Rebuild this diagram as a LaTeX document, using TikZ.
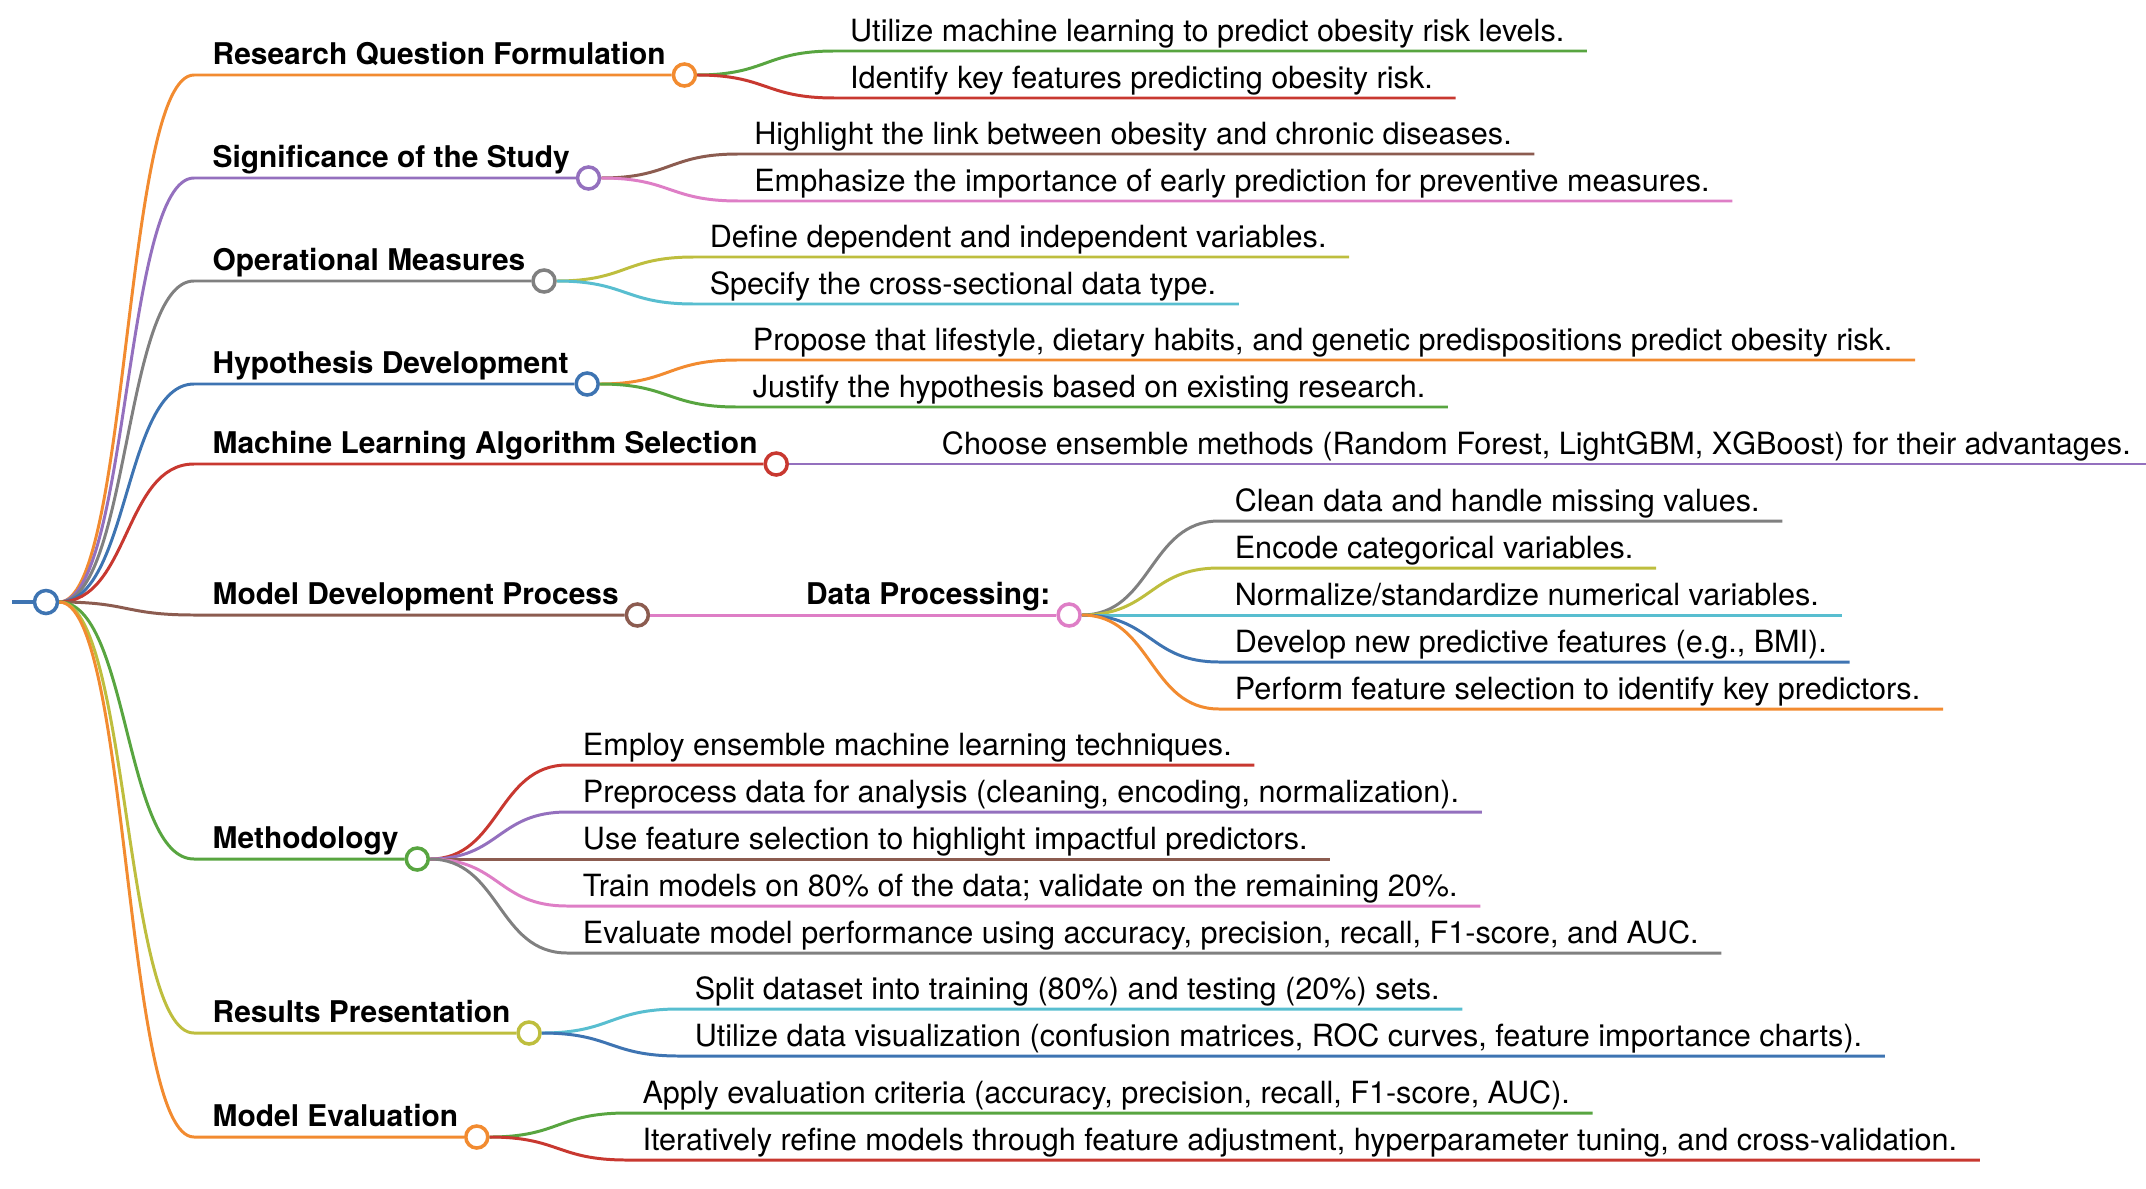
\documentclass[tikz,border=0pt]{standalone}
\usepackage{fontspec}
\setmainfont{TeX Gyre Heros}
\usetikzlibrary{calc}

\definecolor{corange}{HTML}{F28B30}
\definecolor{cgreen}{HTML}{58A540}
\definecolor{cred}{HTML}{C83830}
\definecolor{cpurple}{HTML}{9470BE}
\definecolor{cbrown}{HTML}{8C5C50}
\definecolor{cpink}{HTML}{DE7EC6}
\definecolor{cgray}{HTML}{808080}
\definecolor{colive}{HTML}{BEBE3E}
\definecolor{ccyan}{HTML}{58BED0}
\definecolor{cblue}{HTML}{3E74B2}

\begin{document}
\begin{tikzpicture}[
    x=0.01cm, y=-0.01cm,
    font=\fontsize{8.7}{10}\selectfont,
    dot/.style={circle, draw=#1, fill=white, line width=1pt, minimum size=0.22cm, inner sep=0pt},
    topic/.style={anchor=south west, font=\fontsize{8.5}{10}\selectfont\bfseries, inner xsep=0.18cm, inner ysep=0.1cm, text depth=0pt},
    leaf/.style={anchor=south west, inner xsep=0.15cm, inner ysep=0.09cm, text depth=0pt},
    link/.style={draw=#1, line width=0.85pt},
    sbend/.style={to path={.. controls +(70,0) and +(-70,0) .. (\tikztotarget)}}
]
\useasboundingbox (0,0) rectangle (2146,1188);

% Root
\coordinate (stub) at (12,602);
\node[dot=cblue, minimum size=0.23cm] (root) at (46,602) {};
\draw[link=cblue, line width=1.4pt] (stub) -- (root.west);

% Main topics
\node[topic] (rqt) at (194,75) {Research Question Formulation};
\node[dot=corange] (rq) at (rqt.south east) {};
\node[topic] (sst) at (194,178) {Significance of the Study};
\node[dot=cpurple] (ss) at (sst.south east) {};
\node[topic] (omt) at (194,281) {Operational Measures};
\node[dot=cgray] (om) at (omt.south east) {};
\node[topic] (hdt) at (194,384) {Hypothesis Development};
\node[dot=cblue] (hd) at (hdt.south east) {};
\node[topic] (mlt) at (194,464) {Machine Learning Algorithm Selection};
\node[dot=cred] (ml) at (mlt.south east) {};
\node[topic] (mdt) at (194,615) {Model Development Process};
\node[dot=cbrown] (md) at (mdt.south east) {};
\node[topic] (mtt) at (194,859) {Methodology};
\node[dot=cgreen] (mt) at (mtt.south east) {};
\node[topic] (rpt) at (194,1033) {Results Presentation};
\node[dot=colive] (rp) at (rpt.south east) {};
\node[topic] (met) at (194,1137) {Model Evaluation};
\node[dot=corange] (me) at (met.south east) {};

% Sub topic
\node[topic] (dpt) at ($(md)+(150,0)$) {Data Processing:};
\node[dot=cpink] (dp) at (dpt.south east) {};

% Leaves
\node[leaf] (rq1) at ($(rq)+(150,-24)$) {Utilize machine learning to predict obesity risk levels.};
\node[leaf] (rq2) at ($(rq)+(150,23)$) {Identify key features predicting obesity risk.};
\node[leaf] (ss1) at ($(ss)+(150,-24)$) {Highlight the link between obesity and chronic diseases.};
\node[leaf] (ss2) at ($(ss)+(150,23)$) {Emphasize the importance of early prediction for preventive measures.};
\node[leaf] (om1) at ($(om)+(150,-24)$) {Define dependent and independent variables.};
\node[leaf] (om2) at ($(om)+(150,23)$) {Specify the cross-sectional data type.};
\node[leaf] (hd1) at ($(hd)+(150,-24)$) {Propose that lifestyle, dietary habits, and genetic predispositions predict obesity risk.};
\node[leaf] (hd2) at ($(hd)+(150,23)$) {Justify the hypothesis based on existing research.};
\node[leaf] (ml1) at ($(ml)+(150,0)$) {Choose ensemble methods (Random Forest, LightGBM, XGBoost) for their advantages.};
\node[leaf] (dp1) at ($(dp)+(150,-94)$) {Clean data and handle missing values.};
\node[leaf] (dp2) at ($(dp)+(150,-47)$) {Encode categorical variables.};
\node[leaf] (dp3) at ($(dp)+(150,0)$) {Normalize/standardize numerical variables.};
\node[leaf] (dp4) at ($(dp)+(150,47)$) {Develop new predictive features (e.g., BMI).};
\node[leaf] (dp5) at ($(dp)+(150,94)$) {Perform feature selection to identify key predictors.};
\node[leaf] (mt1) at ($(mt)+(150,-94)$) {Employ ensemble machine learning techniques.};
\node[leaf] (mt2) at ($(mt)+(150,-47)$) {Preprocess data for analysis (cleaning, encoding, normalization).};
\node[leaf] (mt3) at ($(mt)+(150,0)$) {Use feature selection to highlight impactful predictors.};
\node[leaf] (mt4) at ($(mt)+(150,47)$) {Train models on 80\% of the data; validate on the remaining 20\%.};
\node[leaf] (mt5) at ($(mt)+(150,94)$) {Evaluate model performance using accuracy, precision, recall, F1-score, and AUC.};
\node[leaf] (rp1) at ($(rp)+(150,-24)$) {Split dataset into training (80\%) and testing (20\%) sets.};
\node[leaf] (rp2) at ($(rp)+(150,23)$) {Utilize data visualization (confusion matrices, ROC curves, feature importance charts).};
\node[leaf] (me1) at ($(me)+(150,-24)$) {Apply evaluation criteria (accuracy, precision, recall, F1-score, AUC).};
\node[leaf] (me2) at ($(me)+(150,23)$) {Iteratively refine models through feature adjustment, hyperparameter tuning, and cross-validation.};

% Root to main topics
\draw[link=corange] (root.east) to[sbend] (rqt.south west) -- (rq.west);
\draw[link=cpurple] (root.east) to[sbend] (sst.south west) -- (ss.west);
\draw[link=cgray] (root.east) to[sbend] (omt.south west) -- (om.west);
\draw[link=cblue] (root.east) to[sbend] (hdt.south west) -- (hd.west);
\draw[link=cred] (root.east) to[sbend] (mlt.south west) -- (ml.west);
\draw[link=cbrown] (root.east) to[sbend] (mdt.south west) -- (md.west);
\draw[link=cgreen] (root.east) to[sbend] (mtt.south west) -- (mt.west);
\draw[link=colive] (root.east) to[sbend] (rpt.south west) -- (rp.west);
\draw[link=corange] (root.east) to[sbend] (met.south west) -- (me.west);
\draw[link=cpink] (md.east) to[sbend] (dpt.south west) -- (dp.west);

% Main topics to leaves (underline runs a little past the text)
\draw[link=cgreen] (rq.east) to[sbend] (rq1.south west) -- (rq1.south east) -- ++(7,0);
\draw[link=cred] (rq.east) to[sbend] (rq2.south west) -- (rq2.south east) -- ++(7,0);
\draw[link=cbrown] (ss.east) to[sbend] (ss1.south west) -- (ss1.south east) -- ++(7,0);
\draw[link=cpink] (ss.east) to[sbend] (ss2.south west) -- (ss2.south east) -- ++(7,0);
\draw[link=colive] (om.east) to[sbend] (om1.south west) -- (om1.south east) -- ++(7,0);
\draw[link=ccyan] (om.east) to[sbend] (om2.south west) -- (om2.south east) -- ++(7,0);
\draw[link=corange] (hd.east) to[sbend] (hd1.south west) -- (hd1.south east) -- ++(7,0);
\draw[link=cgreen] (hd.east) to[sbend] (hd2.south west) -- (hd2.south east) -- ++(7,0);
\draw[link=cpurple] (ml.east) to[sbend] (ml1.south west) -- (ml1.south east) -- ++(7,0);
\draw[link=cgray] (dp.east) to[sbend] (dp1.south west) -- (dp1.south east) -- ++(7,0);
\draw[link=colive] (dp.east) to[sbend] (dp2.south west) -- (dp2.south east) -- ++(7,0);
\draw[link=ccyan] (dp.east) to[sbend] (dp3.south west) -- (dp3.south east) -- ++(7,0);
\draw[link=cblue] (dp.east) to[sbend] (dp4.south west) -- (dp4.south east) -- ++(7,0);
\draw[link=corange] (dp.east) to[sbend] (dp5.south west) -- (dp5.south east) -- ++(7,0);
\draw[link=cred] (mt.east) to[sbend] (mt1.south west) -- (mt1.south east) -- ++(7,0);
\draw[link=cpurple] (mt.east) to[sbend] (mt2.south west) -- (mt2.south east) -- ++(7,0);
\draw[link=cbrown] (mt.east) to[sbend] (mt3.south west) -- (mt3.south east) -- ++(7,0);
\draw[link=cpink] (mt.east) to[sbend] (mt4.south west) -- (mt4.south east) -- ++(7,0);
\draw[link=cgray] (mt.east) to[sbend] (mt5.south west) -- (mt5.south east) -- ++(7,0);
\draw[link=ccyan] (rp.east) to[sbend] (rp1.south west) -- (rp1.south east) -- ++(7,0);
\draw[link=cblue] (rp.east) to[sbend] (rp2.south west) -- (rp2.south east) -- ++(7,0);
\draw[link=cgreen] (me.east) to[sbend] (me1.south west) -- (me1.south east) -- ++(7,0);
\draw[link=cred] (me.east) to[sbend] (me2.south west) -- (me2.south east) -- ++(7,0);

\end{tikzpicture}
\end{document}
